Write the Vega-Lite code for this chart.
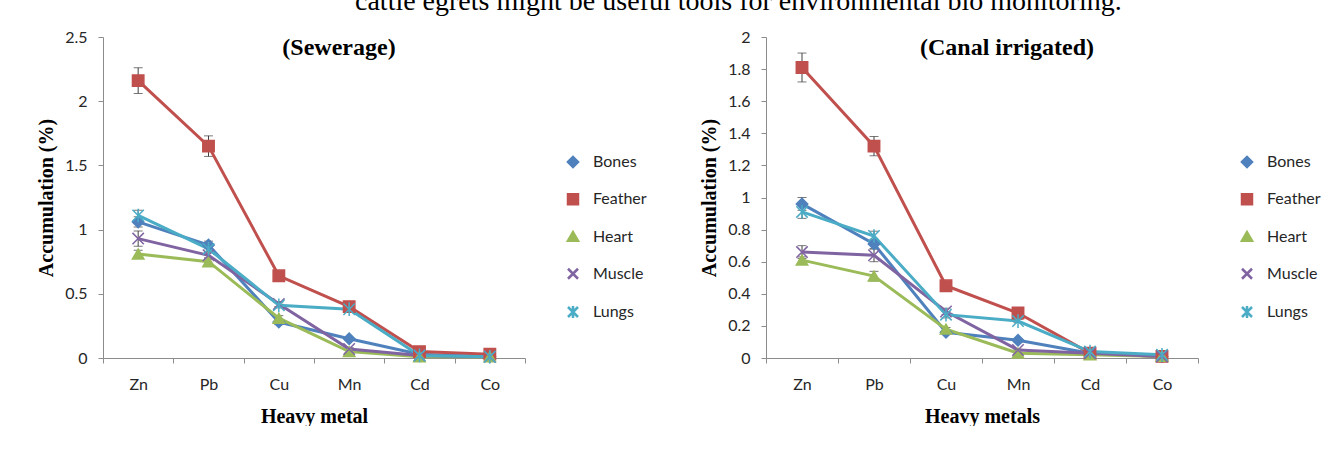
{
  "$schema": "https://vega.github.io/schema/vega-lite/v6.json",
  "padding": {"left": 36, "top": -12, "right": 0, "bottom": 0},
  "background": "#ffffff",
  "title": {
    "text": "cattle egrets might be useful tools for environmental bio monitoring.",
    "font": "Liberation Serif", "fontSize": 28, "fontWeight": "normal", "color": "#000000",
    "anchor": "start", "frame": "group", "dx": 252, "offset": 13
  },
  "datasets": {
    "sewerage": [
      {"metal": "Zn", "tissue": "Bones", "value": 1.06, "err": 0.04},
      {"metal": "Zn", "tissue": "Feather", "value": 2.16, "err": 0.10},
      {"metal": "Zn", "tissue": "Heart", "value": 0.81, "err": 0.03},
      {"metal": "Zn", "tissue": "Muscle", "value": 0.93, "err": 0.06},
      {"metal": "Zn", "tissue": "Lungs", "value": 1.11, "err": 0.04},
      {"metal": "Pb", "tissue": "Bones", "value": 0.88, "err": 0.03},
      {"metal": "Pb", "tissue": "Feather", "value": 1.65, "err": 0.08},
      {"metal": "Pb", "tissue": "Heart", "value": 0.75, "err": 0.03},
      {"metal": "Pb", "tissue": "Muscle", "value": 0.80, "err": 0.03},
      {"metal": "Pb", "tissue": "Lungs", "value": 0.85, "err": 0.03},
      {"metal": "Cu", "tissue": "Bones", "value": 0.28, "err": 0.02},
      {"metal": "Cu", "tissue": "Feather", "value": 0.64, "err": 0.02},
      {"metal": "Cu", "tissue": "Heart", "value": 0.31, "err": 0.02},
      {"metal": "Cu", "tissue": "Muscle", "value": 0.42, "err": 0.02},
      {"metal": "Cu", "tissue": "Lungs", "value": 0.41, "err": 0.02},
      {"metal": "Mn", "tissue": "Bones", "value": 0.15, "err": 0.01},
      {"metal": "Mn", "tissue": "Feather", "value": 0.40, "err": 0.02},
      {"metal": "Mn", "tissue": "Heart", "value": 0.05, "err": 0.01},
      {"metal": "Mn", "tissue": "Muscle", "value": 0.07, "err": 0.01},
      {"metal": "Mn", "tissue": "Lungs", "value": 0.38, "err": 0.02},
      {"metal": "Cd", "tissue": "Bones", "value": 0.03, "err": 0.005},
      {"metal": "Cd", "tissue": "Feather", "value": 0.05, "err": 0.005},
      {"metal": "Cd", "tissue": "Heart", "value": 0.01, "err": 0.005},
      {"metal": "Cd", "tissue": "Muscle", "value": 0.02, "err": 0.005},
      {"metal": "Cd", "tissue": "Lungs", "value": 0.02, "err": 0.005},
      {"metal": "Co", "tissue": "Bones", "value": 0.01, "err": 0.005},
      {"metal": "Co", "tissue": "Feather", "value": 0.03, "err": 0.005},
      {"metal": "Co", "tissue": "Heart", "value": 0.01, "err": 0.005},
      {"metal": "Co", "tissue": "Muscle", "value": 0.01, "err": 0.005},
      {"metal": "Co", "tissue": "Lungs", "value": 0.01, "err": 0.005}
    ],
    "canal": [
      {"metal": "Zn", "tissue": "Bones", "value": 0.96, "err": 0.04},
      {"metal": "Zn", "tissue": "Feather", "value": 1.81, "err": 0.09},
      {"metal": "Zn", "tissue": "Heart", "value": 0.61, "err": 0.02},
      {"metal": "Zn", "tissue": "Muscle", "value": 0.66, "err": 0.04},
      {"metal": "Zn", "tissue": "Lungs", "value": 0.91, "err": 0.04},
      {"metal": "Pb", "tissue": "Bones", "value": 0.71, "err": 0.03},
      {"metal": "Pb", "tissue": "Feather", "value": 1.32, "err": 0.06},
      {"metal": "Pb", "tissue": "Heart", "value": 0.51, "err": 0.03},
      {"metal": "Pb", "tissue": "Muscle", "value": 0.64, "err": 0.04},
      {"metal": "Pb", "tissue": "Lungs", "value": 0.76, "err": 0.03},
      {"metal": "Cu", "tissue": "Bones", "value": 0.16, "err": 0.01},
      {"metal": "Cu", "tissue": "Feather", "value": 0.45, "err": 0.02},
      {"metal": "Cu", "tissue": "Heart", "value": 0.18, "err": 0.01},
      {"metal": "Cu", "tissue": "Muscle", "value": 0.29, "err": 0.02},
      {"metal": "Cu", "tissue": "Lungs", "value": 0.27, "err": 0.02},
      {"metal": "Mn", "tissue": "Bones", "value": 0.11, "err": 0.01},
      {"metal": "Mn", "tissue": "Feather", "value": 0.28, "err": 0.01},
      {"metal": "Mn", "tissue": "Heart", "value": 0.03, "err": 0.005},
      {"metal": "Mn", "tissue": "Muscle", "value": 0.05, "err": 0.005},
      {"metal": "Mn", "tissue": "Lungs", "value": 0.23, "err": 0.01},
      {"metal": "Cd", "tissue": "Bones", "value": 0.03, "err": 0.005},
      {"metal": "Cd", "tissue": "Feather", "value": 0.03, "err": 0.005},
      {"metal": "Cd", "tissue": "Heart", "value": 0.02, "err": 0.005},
      {"metal": "Cd", "tissue": "Muscle", "value": 0.03, "err": 0.005},
      {"metal": "Cd", "tissue": "Lungs", "value": 0.04, "err": 0.005},
      {"metal": "Co", "tissue": "Bones", "value": 0.01, "err": 0.005},
      {"metal": "Co", "tissue": "Feather", "value": 0.01, "err": 0.005},
      {"metal": "Co", "tissue": "Heart", "value": 0.01, "err": 0.005},
      {"metal": "Co", "tissue": "Muscle", "value": 0.01, "err": 0.005},
      {"metal": "Co", "tissue": "Lungs", "value": 0.02, "err": 0.005}
    ]
  },
  "spacing": 52,
  "resolve": {
    "scale": {"x": "independent", "y": "independent", "color": "independent", "shape": "independent", "stroke": "independent"},
    "legend": {"color": "independent", "shape": "independent", "stroke": "independent"}
  },
  "hconcat": [
    {
      "width": 422, "height": 321,
      "data": {"name": "sewerage"},
      "title": {"text": "(Sewerage)", "font": "Liberation Serif", "fontSize": 24, "fontWeight": "bold", "color": "#000000", "anchor": "middle", "dx": 25, "offset": -31},
      "encoding": {
        "x": {"field": "metal", "type": "nominal", "sort": ["Zn", "Pb", "Cu", "Mn", "Cd", "Co"],
              "scale": {"type": "band", "paddingInner": 0, "paddingOuter": 0},
              "axis": {"title": "Heavy metal", "tickBand": "extent", "labelAngle": 0, "labelPadding": 13, "titlePadding": 14}},
        "y": {"field": "value", "type": "quantitative", "scale": {"domain": [0, 2.5], "nice": false, "zero": true},
              "axis": {"title": "Accumulation (%)", "values": [0, 0.5, 1, 1.5, 2, 2.5], "format": "~g", "labelPadding": 11, "titlePadding": 8}}
      },
      "layer": [
        {
          "mark": {"type": "errorbar", "ticks": {"size": 9, "color": "#404040"}, "rule": {"color": "#404040", "strokeWidth": 1}},
          "encoding": {"yError": {"field": "err"}}
        },
        {
          "mark": {"type": "line", "strokeWidth": 3},
          "encoding": {
            "color": {"field": "tissue", "type": "nominal",
                      "scale": {"domain": ["Bones", "Feather", "Heart", "Muscle", "Lungs"], "range": ["#4F81BD", "#C0504D", "#9BBB59", "#8064A2", "#4BACC6"]}}
          }
        },
        {
          "mark": {"type": "point", "filled": true, "opacity": 1, "size": 130, "strokeWidth": 1.5},
          "encoding": {
            "color": {"field": "tissue", "type": "nominal",
                      "scale": {"domain": ["Bones", "Feather", "Heart", "Muscle", "Lungs"], "range": ["#4F81BD", "#C0504D", "#9BBB59", "#8064A2", "#4BACC6"]},
                      "legend": {
                        "orient": "none", "legendX": 462, "legendY": 117, "title": null,
                        "symbolSize": 100, "symbolStrokeWidth": 2.5, "labelOffset": 12, "rowPadding": 17.25,
                        "labelFont": "Lato", "labelFontSize": 16, "labelColor": "#262626", "padding": 0
                      }},
            "stroke": {"field": "tissue", "type": "nominal",
                       "scale": {"domain": ["Bones", "Feather", "Heart", "Muscle", "Lungs"], "range": ["#4F81BD", "#C0504D", "#9BBB59", "#8064A2", "#4BACC6"]}},
            "shape": {"field": "tissue", "type": "nominal",
                      "scale": {"domain": ["Bones", "Feather", "Heart", "Muscle", "Lungs"], "range": ["diamond", "square", "triangle-up", "M-1,-1L1,1M-1,1L1,-1", "M-1,-1L1,1M-1,1L1,-1M0,-1.2L0,1.2"]}}
          }
        }
      ]
    },
    {
      "width": 432, "height": 321,
      "data": {"name": "canal"},
      "title": {"text": "(Canal irrigated)", "font": "Liberation Serif", "fontSize": 24, "fontWeight": "bold", "color": "#000000", "anchor": "middle", "dx": 25, "offset": -31},
      "encoding": {
        "x": {"field": "metal", "type": "nominal", "sort": ["Zn", "Pb", "Cu", "Mn", "Cd", "Co"],
              "scale": {"type": "band", "paddingInner": 0, "paddingOuter": 0},
              "axis": {"title": "Heavy metals", "tickBand": "extent", "labelAngle": 0, "labelPadding": 13, "titlePadding": 14}},
        "y": {"field": "value", "type": "quantitative", "scale": {"domain": [0, 2], "nice": false, "zero": true},
              "axis": {"title": "Accumulation (%)", "values": [0, 0.2, 0.4, 0.6, 0.8, 1, 1.2, 1.4, 1.6, 1.8, 2], "format": "~g", "labelPadding": 11, "titlePadding": 8}}
      },
      "layer": [
        {
          "mark": {"type": "errorbar", "ticks": {"size": 9, "color": "#404040"}, "rule": {"color": "#404040", "strokeWidth": 1}},
          "encoding": {"yError": {"field": "err"}}
        },
        {
          "mark": {"type": "line", "strokeWidth": 3},
          "encoding": {
            "color": {"field": "tissue", "type": "nominal",
                      "scale": {"domain": ["Bones", "Feather", "Heart", "Muscle", "Lungs"], "range": ["#4F81BD", "#C0504D", "#9BBB59", "#8064A2", "#4BACC6"]}}
          }
        },
        {
          "mark": {"type": "point", "filled": true, "opacity": 1, "size": 130, "strokeWidth": 1.5},
          "encoding": {
            "color": {"field": "tissue", "type": "nominal",
                      "scale": {"domain": ["Bones", "Feather", "Heart", "Muscle", "Lungs"], "range": ["#4F81BD", "#C0504D", "#9BBB59", "#8064A2", "#4BACC6"]},
                      "legend": {
                        "orient": "none", "legendX": 473, "legendY": 117, "title": null,
                        "symbolSize": 100, "symbolStrokeWidth": 2.5, "labelOffset": 12, "rowPadding": 17.25,
                        "labelFont": "Lato", "labelFontSize": 16, "labelColor": "#262626", "padding": 0
                      }},
            "stroke": {"field": "tissue", "type": "nominal",
                       "scale": {"domain": ["Bones", "Feather", "Heart", "Muscle", "Lungs"], "range": ["#4F81BD", "#C0504D", "#9BBB59", "#8064A2", "#4BACC6"]}},
            "shape": {"field": "tissue", "type": "nominal",
                      "scale": {"domain": ["Bones", "Feather", "Heart", "Muscle", "Lungs"], "range": ["diamond", "square", "triangle-up", "M-1,-1L1,1M-1,1L1,-1", "M-1,-1L1,1M-1,1L1,-1M0,-1.2L0,1.2"]}}
          }
        }
      ]
    }
  ],
  "config": {
    "view": {"stroke": null},
    "font": "Lato",
    "axis": {
      "labelFont": "Lato", "labelFontSize": 16, "labelColor": "#262626",
      "domainColor": "#8c8c8c", "tickColor": "#8c8c8c", "tickSize": 5, "domainWidth": 1, "tickWidth": 1,
      "grid": false,
      "titleFont": "Liberation Serif", "titleFontWeight": "bold", "titleFontSize": 20, "titleColor": "#000000"
    }
  }
}
